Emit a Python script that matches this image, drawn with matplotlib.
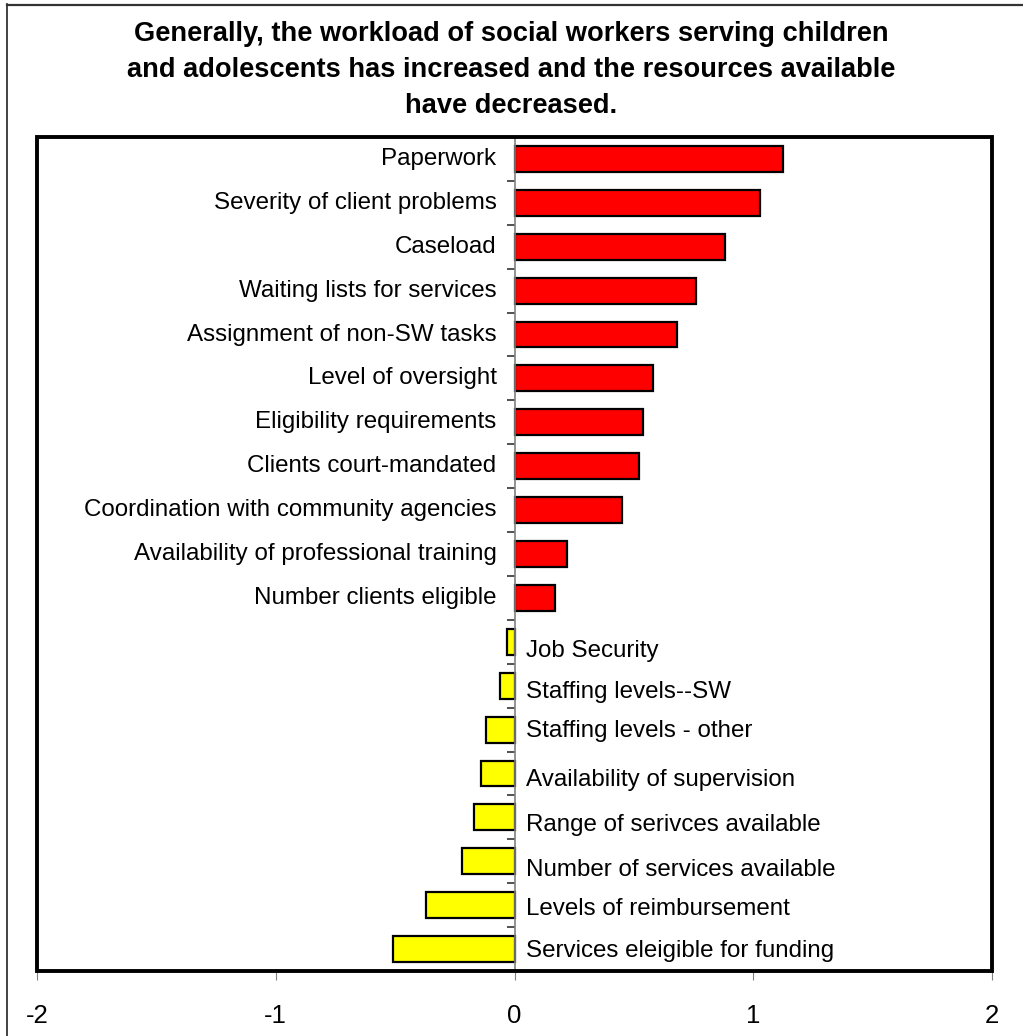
import matplotlib
matplotlib.use("Agg")
import matplotlib.pyplot as plt
from matplotlib.patches import Rectangle
from matplotlib.lines import Line2D

plt.rcParams['font.family'] = ['Liberation Sans', 'DejaVu Sans']

# Change in workload / resources (mean rating, negative = decreased)
categories = [
    "Paperwork",
    "Severity of client problems",
    "Caseload",
    "Waiting lists for services",
    "Assignment of non-SW tasks",
    "Level of oversight",
    "Eligibility requirements",
    "Clients court-mandated",
    "Coordination with community agencies",
    "Availability of professional training",
    "Number clients eligible",
    "Job Security",
    "Staffing levels--SW",
    "Staffing levels - other",
    "Availability of supervision",
    "Range of serivces available",
    "Number of services available",
    "Levels of reimbursement",
    "Services eleigible for funding",
]
values = [1.125, 1.03, 0.88, 0.76, 0.68, 0.58, 0.54, 0.52, 0.45, 0.22, 0.17,
          -0.03, -0.06, -0.12, -0.14, -0.17, -0.22, -0.37, -0.51]
x_ticks = [-2, -1, 0, 1, 2]
title = ("Generally, the workload of social workers serving children\n"
         "and adolescents has increased and the resources available\n"
         "have decreased.")

# Small vertical nudges (pixels, downward) for the labels on the right side
label_nudge = [0] * 11 + [9, 6, 1, 7, 8, 9, 4, 2]

W, H = 1023, 1036
fig = plt.figure(figsize=(W / 100, H / 100), dpi=100)
fig.patch.set_facecolor("white")

# thin outer border (left and top)
fig.add_artist(Line2D([7 / W, 7 / W], [0, 1 - 4 / H], transform=fig.transFigure,
                      color="#222222", lw=1.2))
fig.add_artist(Line2D([7 / W, 1], [1 - 4.5 / H, 1 - 4.5 / H], transform=fig.transFigure,
                      color="#333333", lw=1.6))

left, right, top, bottom = 37, 992, 137, 971
ax = fig.add_axes([left / W, 1 - bottom / H, (right - left) / W, (bottom - top) / H])

n = len(categories)
pos = list(range(n))
colors = ["#FF0000" if v > 0 else "#FFFF00" for v in values]
ax.barh(pos, values, height=0.59, color=colors, edgecolor="black", linewidth=1.6, zorder=3)

ax.set_xlim(-2, 2)
ax.set_ylim(n - 0.5, -0.5)

# zero axis with tick marks between categories
for s in ["top", "right", "bottom"]:
    ax.spines[s].set_visible(False)
ax.spines["left"].set_position(("data", 0))
ax.spines["left"].set_color("#808080")
ax.spines["left"].set_linewidth(1.2)
ax.spines["left"].set_zorder(4)
ax.set_yticks([i + 0.5 for i in range(-1, n)])
ax.set_yticklabels([])
ax.tick_params(axis="y", direction="out", length=5.5, width=1.2, color="#333333")

ax.set_xticks(x_ticks)
ax.set_xticklabels([str(t) for t in x_ticks])
ax.tick_params(axis="x", direction="out", length=6.5, width=0.8, color="#808080",
               labelsize=18.5, pad=17)

# thick black frame
ax.add_patch(Rectangle((0, 0), 1, 1, transform=ax.transAxes, fill=False,
                       edgecolor="black", linewidth=2.8, clip_on=False, zorder=5))

for i, (cat, v) in enumerate(zip(categories, values)):
    if v > 0:
        ax.annotate(cat, (0, i), xytext=(-18, 0), textcoords="offset pixels",
                    ha="right", va="center", fontsize=17.4)
    else:
        ax.annotate(cat, (0, i), xytext=(11, -label_nudge[i]), textcoords="offset pixels",
                    ha="left", va="center", fontsize=17.4)

fig.text(0.5, 1 - 70 / H, title, ha="center", va="center", fontsize=19.6,
         fontweight="bold", linespacing=1.52)

fig.savefig("out.png", dpi=100, facecolor="white")
